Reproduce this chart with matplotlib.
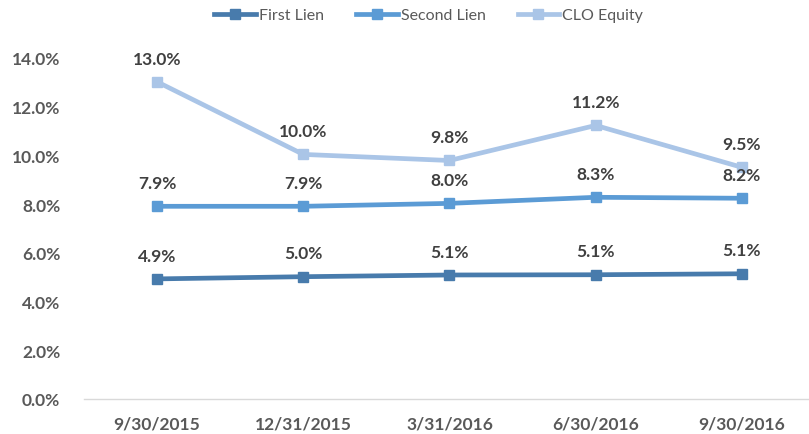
import matplotlib
matplotlib.use("Agg")
import matplotlib.pyplot as plt

# chart values (percent)
dates = ["9/30/2015", "12/31/2015", "3/31/2016", "6/30/2016", "9/30/2016"]
first_lien = [4.93, 5.02, 5.09, 5.10, 5.14]
second_lien = [7.91, 7.91, 8.03, 8.28, 8.24]
clo_equity = [13.02, 10.04, 9.79, 11.23, 9.51]
series_names = ["First Lien", "Second Lien", "CLO Equity"]

colors = ["#487bac", "#5b9bd5", "#aac5e7"]

plt.rcParams["font.family"] = ["Lato", "DejaVu Sans"]

fig = plt.figure(figsize=(8.09, 4.35), dpi=100)
ax = fig.add_axes([0.1038, 0.0805, 0.9036, 0.784])

x = list(range(len(dates)))
for vals, name, col in zip([first_lien, second_lien, clo_equity], series_names, colors):
    ax.plot(x, vals, color=col, lw=3.4, marker="s", markersize=7.5, label=name,
            solid_joinstyle="miter")
    for xi, v in zip(x, vals):
        ax.annotate(f"{v:.1f}%", (xi, v), xytext=(0, 11), textcoords="offset points",
                    ha="center", va="bottom", fontsize=12.5, fontweight="bold",
                    color="#404040")

ax.set_xlim(-0.5, len(dates) - 0.5)
ax.set_ylim(0, 14)
ax.set_yticks([0, 2, 4, 6, 8, 10, 12, 14])
ax.set_yticklabels([f"{t:.1f}%" for t in ax.get_yticks()])
ax.set_xticks(x)
ax.set_xticklabels(dates)
for lab in ax.get_xticklabels() + ax.get_yticklabels():
    lab.set_fontweight("bold")
    lab.set_fontsize(12.5)
    lab.set_color("#595959")
ax.tick_params(length=0)
ax.tick_params(axis="x", pad=12)
ax.tick_params(axis="y", pad=17)
for s in ["top", "right", "left"]:
    ax.spines[s].set_visible(False)
ax.spines["bottom"].set_color("#d9d9d9")
ax.spines["bottom"].set_linewidth(1)

fig.legend(loc="center", bbox_to_anchor=(0.53, 0.963), ncol=3, frameon=False,
           fontsize=11.5, handlelength=2.6, columnspacing=2.0, handletextpad=0.2,
           labelcolor="#595959")

fig.savefig("out.png", dpi=100)
